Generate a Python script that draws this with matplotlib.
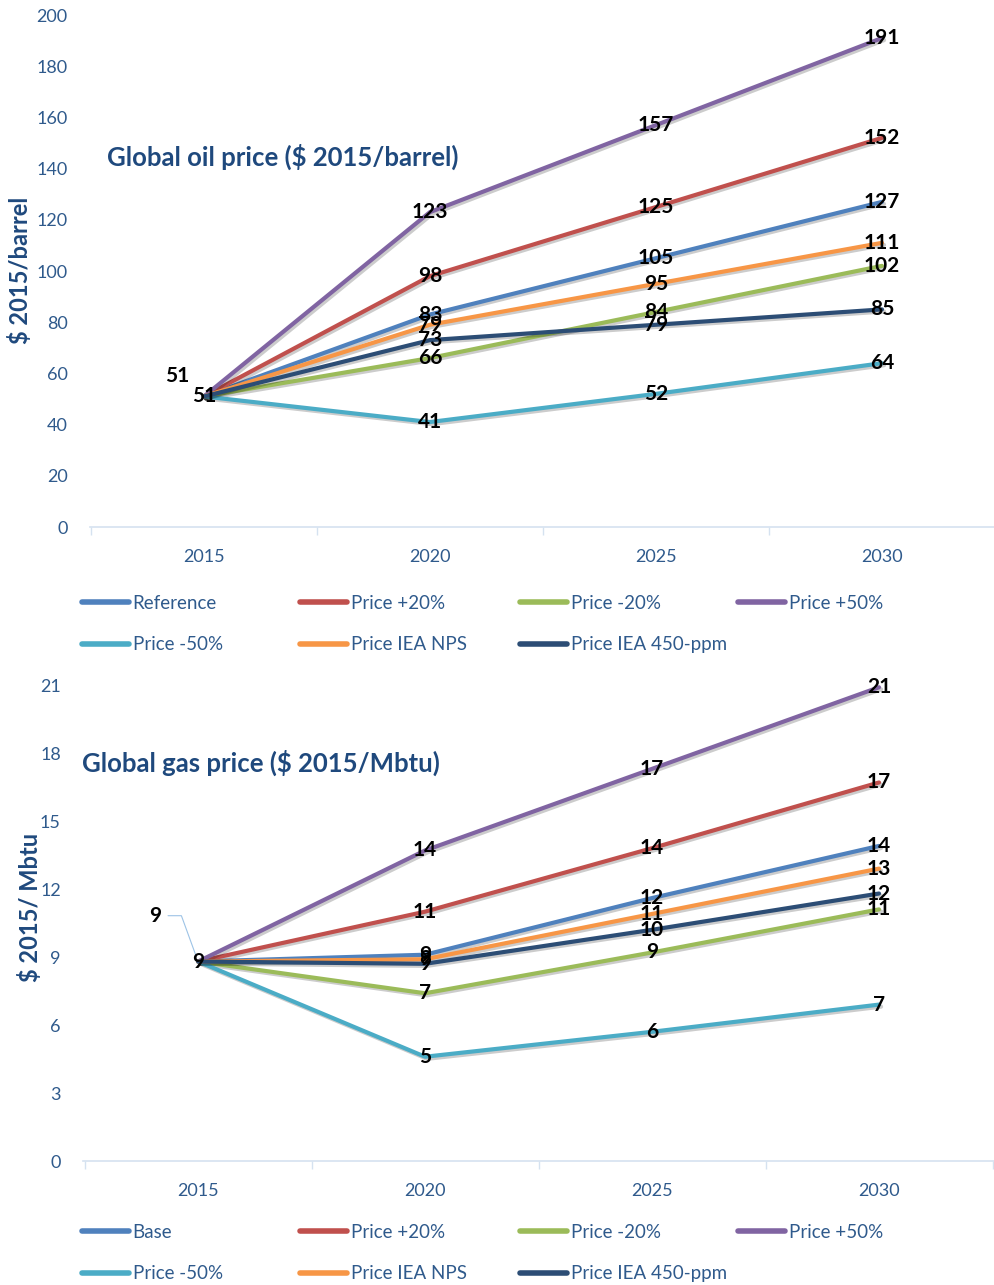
import matplotlib
matplotlib.use('Agg')
import matplotlib.pyplot as plt
from matplotlib.lines import Line2D
import matplotlib.patheffects as pe

plt.rcParams['font.family'] = ['Lato', 'DejaVu Sans']

# data
years = ['2015', '2020', '2025', '2030']

oil_names = ['Reference', 'Price +20%', 'Price -20%', 'Price +50%',
             'Price -50%', 'Price IEA NPS', 'Price IEA 450-ppm']
oil_reference = [51, 83, 105, 127]
oil_up20 = [51, 98, 125, 152]
oil_down20 = [51, 66, 84, 102]
oil_up50 = [51, 123, 157, 191]
oil_down50 = [51, 41, 52, 64]
oil_nps = [51, 79, 95, 111]
oil_450 = [51, 73, 79, 85]

gas_names = ['Base', 'Price +20%', 'Price -20%', 'Price +50%',
             'Price -50%', 'Price IEA NPS', 'Price IEA 450-ppm']
gas_base = [8.8, 9.1, 11.6, 13.9]
gas_up20 = [8.8, 11.0, 13.8, 16.7]
gas_down20 = [8.8, 7.4, 9.2, 11.1]
gas_up50 = [8.8, 13.7, 17.3, 20.9]
gas_down50 = [8.8, 4.6, 5.7, 6.9]
gas_nps = [8.8, 8.9, 10.9, 12.9]
gas_450 = [8.8, 8.7, 10.2, 11.8]

colors = ['#4F81BD', '#C0504D', '#9BBB59', '#8064A2',
          '#4BACC6', '#F79646', '#2C4D75']

TXT = '#2F5A8C'
TITLE = '#1F497D'
AXLINE = '#D5E2F0'

W, H = 995, 1285
fig = plt.figure(figsize=(W / 100, H / 100), dpi=100)


def px_axes(left, top, right, bottom):
    return fig.add_axes([left / W, 1 - bottom / H, (right - left) / W, (bottom - top) / H])


def draw_panel(ax, series, names, ymax, ystep, xlim, title, title_xy,
               ylabel, ylabel_xy, legend_y):
    x = list(range(len(years)))
    shadow = [pe.SimpleLineShadow(offset=(1.5, -1.5), shadow_color='#000000', alpha=0.2),
              pe.Normal()]
    for vals, c in zip(series, colors):
        ax.plot(x, vals, color=c, lw=3.0, solid_capstyle='round',
                solid_joinstyle='round', path_effects=shadow, zorder=3)
    # data labels
    for k, vals in enumerate(series):
        for i, v in enumerate(vals):
            if i == 0 and k != len(series) - 1:
                continue
            ax.text(i, v, f'{v:.0f}', ha='center', va='center', fontsize=15,
                    fontweight='bold', color='black', zorder=5)

    ax.set_xlim(*xlim)
    ax.set_ylim(0, ymax)
    ax.set_xticks(x)
    ax.set_xticklabels(years)
    ax.set_xticks([i - 0.5 for i in range(len(years) + 1)], minor=True)
    ax.set_yticks(range(0, ymax + 1, ystep))
    ax.tick_params(axis='x', which='major', length=0, pad=16, labelsize=13, labelcolor=TXT)
    ax.tick_params(axis='x', which='minor', length=6, width=1, color=AXLINE, direction='out')
    ax.tick_params(axis='y', length=0, pad=16, labelsize=13, labelcolor=TXT)
    for s in ['left', 'top', 'right']:
        ax.spines[s].set_visible(False)
    ax.spines['bottom'].set_color(AXLINE)
    ax.spines['bottom'].set_linewidth(1.2)

    fig.text(title_xy[0] / W, 1 - title_xy[1] / H, title, ha='left', va='center',
             fontsize=18.5, fontweight='bold', color=TITLE)
    fig.text(ylabel_xy[0] / W, 1 - ylabel_xy[1] / H, ylabel, ha='center', va='center',
             rotation=90, fontsize=17, fontweight='bold', color=TITLE)

    # legend, 4 fixed columns like the source
    handles = [Line2D([], [], color=c, lw=4, solid_capstyle='round') for c in colors]
    col_x = [82, 300, 520, 738]
    for j, cx in enumerate(col_x):
        idx = list(range(j, len(names), 4))
        fig.legend([handles[i] for i in idx], [names[i] for i in idx],
                   loc='upper left', bbox_to_anchor=(cx / W, 1 - legend_y / H),
                   frameon=False, fontsize=13.5, handlelength=2.5,
                   handletextpad=0.2, labelspacing=1.3, borderpad=0,
                   borderaxespad=0, labelcolor=TXT)
    return ax


# oil panel
ax1 = px_axes(90, 15, 995, 527)
draw_panel(ax1, [oil_reference, oil_up20, oil_down20, oil_up50, oil_down50, oil_nps, oil_450],
           oil_names, 200, 20, (-0.504, 3.465),
           'Global oil price ($ 2015/barrel)', (107, 157),
           '$ 2015/barrel', (20, 270), 595)
ax1.annotate(f'{oil_reference[0]:.0f}', xy=(0, oil_reference[0]), xytext=(-19, 15),
             textcoords='offset points', ha='center', va='center', fontsize=15,
             fontweight='bold', color='black')

# gas panel
ax2 = px_axes(83, 685, 995, 1161)
draw_panel(ax2, [gas_base, gas_up20, gas_down20, gas_up50, gas_down50, gas_nps, gas_450],
           gas_names, 21, 3, (-0.507, 3.511),
           'Global gas price ($ 2015/Mbtu)', (82, 763),
           '$ 2015/ Mbtu', (30, 907), 1224)
ax2.annotate(f'{gas_base[0]:.0f}', xy=(0, gas_base[0]), xytext=(-31, 33),
             textcoords='offset points', ha='center', va='center', fontsize=15,
             fontweight='bold', color='black',
             arrowprops=dict(arrowstyle='-', color='#9DC3E6', lw=0.8,
                             shrinkA=3, shrinkB=4,
                             connectionstyle='angle,angleA=0,angleB=110,rad=0'))

fig.savefig('out.png', dpi=100)
